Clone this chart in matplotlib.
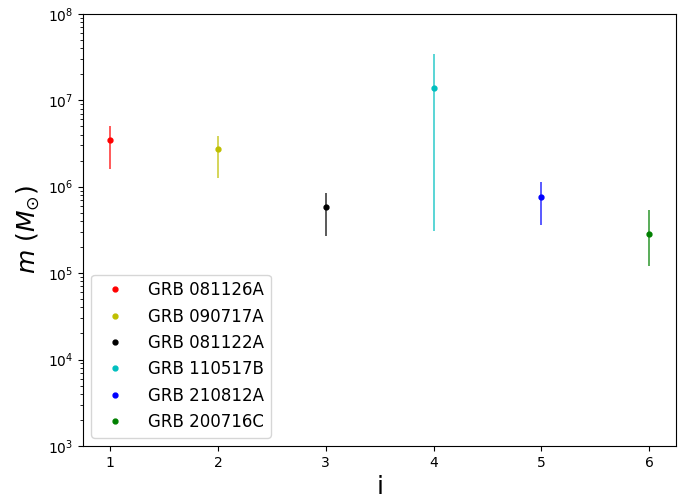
import numpy as np
import matplotlib
matplotlib.use('Agg')
import matplotlib.pyplot as plt

# data
idx = [1, 2, 3, 4, 5, 6]
names = ['GRB 081126A', 'GRB 090717A', 'GRB 081122A', 'GRB 110517B', 'GRB 210812A', 'GRB 200716C']
colors = ['r', 'y', 'k', 'c', 'b', 'g']
mass = [3.5e6, 2.75e6, 5.85e5, 1.4e7, 7.6e5, 2.8e5]
upper = [5.1e6, 3.9e6, 8.5e5, 3.45e7, 1.14e6, 5.4e5]
lower = [1.6e6, 1.26e6, 2.7e5, 3.1e5, 3.6e5, 1.2e5]

fig = plt.figure(figsize=(6.81, 4.96), dpi=100)
ax = fig.add_axes([0.122, 0.101, 0.871, 0.871])

for i in range(len(idx)):
    ax.errorbar(idx[i], mass[i], yerr=[[mass[i]-lower[i]], [upper[i]-mass[i]]],
                fmt='none', ecolor=colors[i], alpha=0.7, lw=1.3)
    ax.plot(idx[i], mass[i], '.', color=colors[i], ms=7, label=names[i])

ax.set_yscale('log')
ax.set_ylim(1e3, 1e8)
ax.set_xlim(0.75, 6.25)
ax.set_xticks(idx)
ax.set_xlabel('i', fontsize=18)
ax.set_ylabel(r'$m\ (M_{\odot})$', fontsize=18)
ax.tick_params(labelsize=10)
ax.legend(loc='lower left', fontsize=12, handletextpad=1.0)

fig.savefig('out.png', dpi=100)
